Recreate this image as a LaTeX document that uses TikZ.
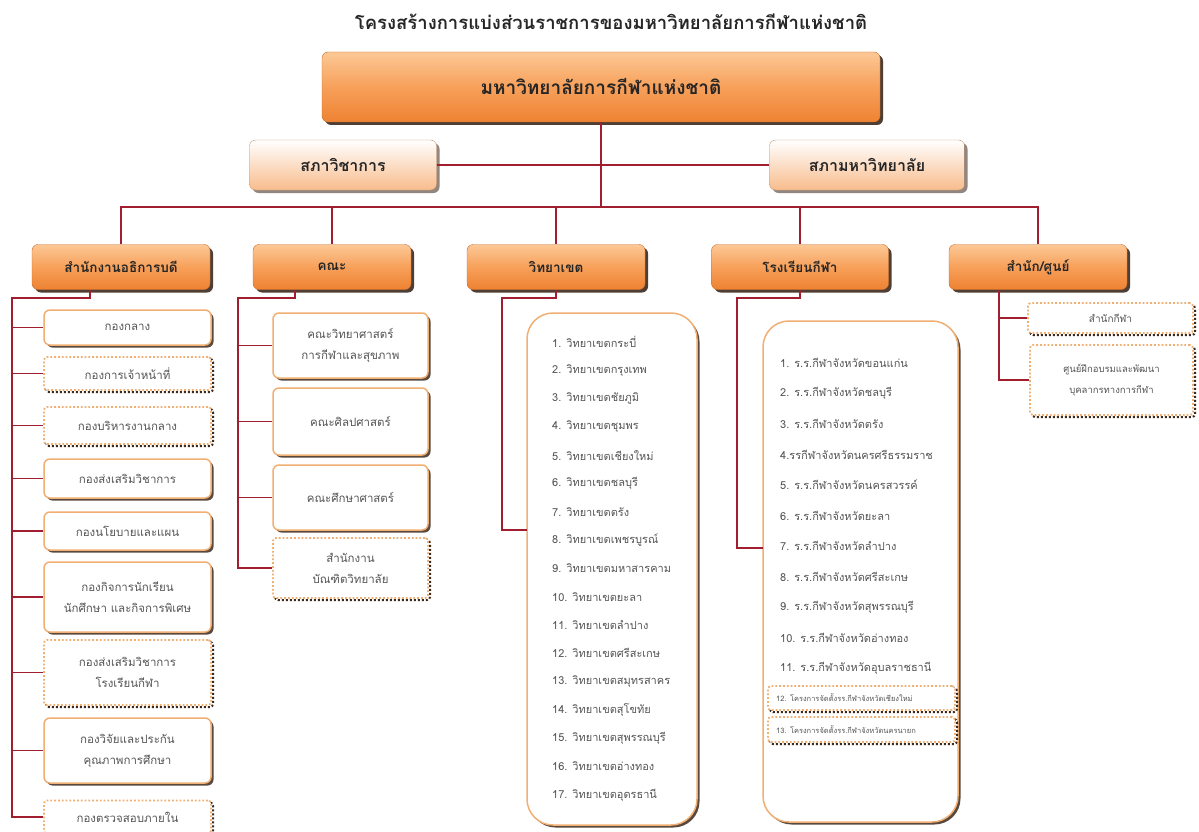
\documentclass[tikz,border=0pt]{standalone}
\usepackage{fontspec}
\setmainfont[Script=Thai]{Loma}
\usepackage{tikz}
\usetikzlibrary{shadows}
\definecolor{linkred}{RGB}{160, 30, 45}
\definecolor{orangetop}{RGB}{252, 200, 150}
\definecolor{orangemid}{RGB}{247, 160, 90}
\definecolor{orangebot}{RGB}{238, 130, 50}
\definecolor{peach}{RGB}{248, 188, 140}
\definecolor{rim}{RGB}{240, 175, 115}
\definecolor{shade}{RGB}{60, 42, 30}
\definecolor{ink}{RGB}{85, 85, 85}

\tikzset{
  link/.style={draw=linkred, line width=1.8pt},
  obox/.style={rounded corners=6pt, top color=orangetop, bottom color=orangebot, middle color=orangemid,
    draw=orangebot!85!black, line width=0.4pt, text=black!85, font=\bfseries\fontsize{13.5}{15}\selectfont,
    drop shadow={shadow xshift=3pt, shadow yshift=-3pt, fill=shade, opacity=0.9}},
  pbox/.style={rounded corners=6pt, top color=white, bottom color=peach, draw=peach!80!black, line width=0.4pt,
    text=black!85, font=\bfseries\fontsize{16}{18}\selectfont,
    drop shadow={shadow xshift=3pt, shadow yshift=-3pt, fill=shade!70, opacity=0.8}},
  wbox/.style={rounded corners=6pt, fill=white, draw=rim, line width=1.5pt, text=ink, align=center,
    font=\fontsize{11.5}{21}\selectfont,
    drop shadow={shadow xshift=2.5pt, shadow yshift=-2.5pt, fill=shade, opacity=0.85}},
  dbox/.style={rounded corners=3pt, fill=white, draw=rim, dotted, line width=1.8pt, text=ink, align=center,
    font=\fontsize{11.5}{21}\selectfont,
    drop shadow={shadow xshift=2pt, shadow yshift=-2pt, fill=none, draw=shade, dotted, line width=2pt, opacity=1}},
  listbox/.style={rounded corners=26pt, fill=white, draw=rim, line width=1.5pt,
    drop shadow={shadow xshift=2.5pt, shadow yshift=-2.5pt, fill=shade, opacity=0.85}},
  item/.style={anchor=west, text=ink, font=\fontsize{11}{12}\selectfont, inner sep=0pt},
  tinyitem/.style={anchor=west, text=ink, font=\fontsize{7.5}{8}\selectfont, inner sep=0pt}
}

\begin{document}
\begin{tikzpicture}[x=1pt, y=-1pt]

  \useasboundingbox[fill=white] (0, 0) rectangle (1199, 832);

  \node[text=black!85, font=\bfseries\fontsize{18.5}{20}\selectfont] (ttl) at (611, 22) {โครงสร้างการแบ่งส่วนราชการของมหาวิทยาลัยการกีฬาแห่งชาติ};

  % top levels
  \node[obox, minimum width=558, minimum height=70, font=\bfseries\fontsize{19}{21}\selectfont] (uni) at (601, 87) {มหาวิทยาลัยการกีฬาแห่งชาติ};
  \node[pbox, minimum width=187, minimum height=50] (acad) at (343, 165) {สภาวิชาการ};
  \node[pbox, minimum width=195, minimum height=50] (cncl) at (867, 165) {สภามหาวิทยาลัย};

  \node[obox, minimum width=178, minimum height=45] (sec) at (121, 267) {สำนักงานอธิการบดี};
  \node[obox, minimum width=158, minimum height=45] (fac) at (332, 267) {คณะ};
  \node[obox, minimum width=178, minimum height=45] (camp) at (556, 267) {วิทยาเขต};
  \node[obox, minimum width=177, minimum height=45] (sch) at (800, 267) {โรงเรียนกีฬา};
  \node[obox, minimum width=178, minimum height=45] (ctr) at (1038, 267) {สำนัก/ศูนย์};

  \coordinate (bus) at (601, 207);
  \draw[link] (uni.south) -- (bus);
  \draw[link] (acad.east) -- (cncl.west);
  \draw[link] (sec.north) |- (bus) -| (ctr.north);
  \draw[link] (bus -| fac.north) -- (fac.north);
  \draw[link] (bus -| camp.north) -- (camp.north);
  \draw[link] (bus -| sch.north) -- (sch.north);

  % office of the president
  \node[wbox, minimum width=167, minimum height=35] (s1) at (127.5, 327.5) {กองกลาง};
  \node[dbox, minimum width=167, minimum height=33] (s2) at (127.5, 373.5) {กองการเจ้าหน้าที่};
  \node[dbox, minimum width=167, minimum height=37] (s3) at (127.5, 425.5) {กองบริหารงานกลาง};
  \node[wbox, minimum width=167, minimum height=39] (s4) at (127.5, 478.5) {กองส่งเสริมวิชาการ};
  \node[wbox, minimum width=167, minimum height=38] (s5) at (127.5, 531) {กองนโยบายและแผน};
  \node[wbox, minimum width=167, minimum height=70] (s6) at (127.5, 597) {กองกิจการนักเรียน\\นักศึกษา และกิจการพิเศษ};
  \node[dbox, minimum width=167, minimum height=65] (s7) at (127.5, 672.5) {กองส่งเสริมวิชาการ\\โรงเรียนกีฬา};
  \node[wbox, minimum width=167, minimum height=65] (s8) at (127.5, 750.5) {กองวิจัยและประกัน\\คุณภาพการศึกษา};
  \node[dbox, minimum width=167, minimum height=33] (s9) at (127.5, 817) {กองตรวจสอบภายใน};

  \coordinate (secJ) at (12, 298);
  \draw[link] ([xshift=-31pt]sec.south) |- (secJ) |- (s9.west);
  \draw[link] (secJ |- s1.west) -- (s1.west);
  \draw[link] (secJ |- s2.west) -- (s2.west);
  \draw[link] (secJ |- s3.west) -- (s3.west);
  \draw[link] (secJ |- s4.west) -- (s4.west);
  \draw[link] (secJ |- s5.west) -- (s5.west);
  \draw[link] (secJ |- s6.west) -- (s6.west);
  \draw[link] (secJ |- s7.west) -- (s7.west);
  \draw[link] (secJ |- s8.west) -- (s8.west);

  % faculties
  \node[wbox, minimum width=155, minimum height=65] (f1) at (350.5, 345.5) {คณะวิทยาศาสตร์\\การกีฬาและสุขภาพ};
  \node[wbox, minimum width=155, minimum height=67] (f2) at (350.5, 421.5) {คณะศิลปศาสตร์};
  \node[wbox, minimum width=155, minimum height=65] (f3) at (350.5, 497.5) {คณะศึกษาศาสตร์};
  \node[dbox, minimum width=155, minimum height=60] (f4) at (350.5, 568) {สำนักงาน\\บัณฑิตวิทยาลัย};

  \coordinate (facJ) at (238, 298);
  \draw[link] ([xshift=-37pt]fac.south) |- (facJ) |- (f4.west);
  \draw[link] (facJ |- f1.west) -- (f1.west);
  \draw[link] (facJ |- f2.west) -- (f2.west);
  \draw[link] (facJ |- f3.west) -- (f3.west);

  % campuses
  \node[listbox, minimum width=170, minimum height=512] (clist) at (612, 569) {};
  \coordinate (campJ) at (502, 298);
  \coordinate (campIn) at (527, 530);
  \draw[link] (camp.south) |- (campJ) |- (campIn);

  \node[item] (c1) at (552, 342) {1. วิทยาเขตกระบี่};
  \node[item] (c2) at (552, 370.3) {2. วิทยาเขตกรุงเทพ};
  \node[item] (c3) at (552, 398.6) {3. วิทยาเขตชัยภูมิ};
  \node[item] (c4) at (552, 426.9) {4. วิทยาเขตชุมพร};
  \node[item] (c5) at (552, 455.2) {5. วิทยาเขตเชียงใหม่};
  \node[item] (c6) at (552, 483.5) {6. วิทยาเขตชลบุรี};
  \node[item] (c7) at (552, 511.8) {7. วิทยาเขตตรัง};
  \node[item] (c8) at (552, 540.1) {8. วิทยาเขตเพชรบูรณ์};
  \node[item] (c9) at (552, 568.4) {9. วิทยาเขตมหาสารคาม};
  \node[item] (c10) at (552, 596.7) {10. วิทยาเขตยะลา};
  \node[item] (c11) at (552, 625) {11. วิทยาเขตลำปาง};
  \node[item] (c12) at (552, 653.3) {12. วิทยาเขตศรีสะเกษ};
  \node[item] (c13) at (552, 681.6) {13. วิทยาเขตสมุทรสาคร};
  \node[item] (c14) at (552, 709.9) {14. วิทยาเขตสุโขทัย};
  \node[item] (c15) at (552, 738.2) {15. วิทยาเขตสุพรรณบุรี};
  \node[item] (c16) at (552, 766.5) {16. วิทยาเขตอ่างทอง};
  \node[item] (c17) at (552, 794.8) {17. วิทยาเขตอุดรธานี};

  % sports schools
  \node[listbox, minimum width=195, minimum height=501] (slist) at (860.5, 571.5) {};
  \coordinate (schJ) at (737, 298);
  \coordinate (schIn) at (763, 548);
  \draw[link] (sch.south) |- (schJ) |- (schIn);

  \node[item] (r1) at (780, 363) {1. ร.ร.กีฬาจังหวัดขอนแก่น};
  \node[item] (r2) at (780, 393.5) {2. ร.ร.กีฬาจังหวัดชลบุรี};
  \node[item] (r3) at (780, 424) {3. ร.ร.กีฬาจังหวัดตรัง};
  \node[item] (r4) at (780, 454.5) {4.รรกีฬาจังหวัดนครศรีธรรมราช};
  \node[item] (r5) at (780, 485) {5. ร.ร.กีฬาจังหวัดนครสวรรค์};
  \node[item] (r6) at (780, 515.5) {6. ร.ร.กีฬาจังหวัดยะลา};
  \node[item] (r7) at (780, 546) {7. ร.ร.กีฬาจังหวัดลำปาง};
  \node[item] (r8) at (780, 576.5) {8. ร.ร.กีฬาจังหวัดศรีสะเกษ};
  \node[item] (r9) at (780, 607) {9. ร.ร.กีฬาจังหวัดสุพรรณบุรี};
  \node[item] (r10) at (780, 637.5) {10. ร.ร.กีฬาจังหวัดอ่างทอง};
  \node[item] (r11) at (780, 668) {11. ร.ร.กีฬาจังหวัดอุบลราชธานี};
  \node[dbox, minimum width=187, minimum height=24, drop shadow={shadow xshift=0pt, shadow yshift=0pt, fill=none, draw=none}] (r12box) at (861.5, 698) {};
  \node[tinyitem] (r12) at (776, 698) {12. โครงการจัดตั้งรร.กีฬาจังหวัดเชียงใหม่};
  \node[dbox, minimum width=187, minimum height=25, drop shadow={shadow xshift=0pt, shadow yshift=0pt, fill=none, draw=none}] (r13box) at (861.5, 729.5) {};
  \node[tinyitem] (r13) at (776, 729.5) {13. โครงการจัดตั้งรร.กีฬาจังหวัดนครนายก};

  % offices and centres
  \node[dbox, minimum width=165, minimum height=30, font=\fontsize{10}{12}\selectfont] (k1) at (1110.5, 318) {สำนักกีฬา};
  \node[dbox, minimum width=163, minimum height=70, font=\fontsize{9.5}{21}\selectfont] (k2) at (1111.5, 380) {ศูนย์ฝึกอบรมและพัฒนา\\บุคลากรทางการกีฬา};
  \draw[link] (ctr.south -| 999, 0) |- (k2.west);
  \draw[link] (999, 0 |- k1.west) -- (k1.west);

\end{tikzpicture}
\end{document}
